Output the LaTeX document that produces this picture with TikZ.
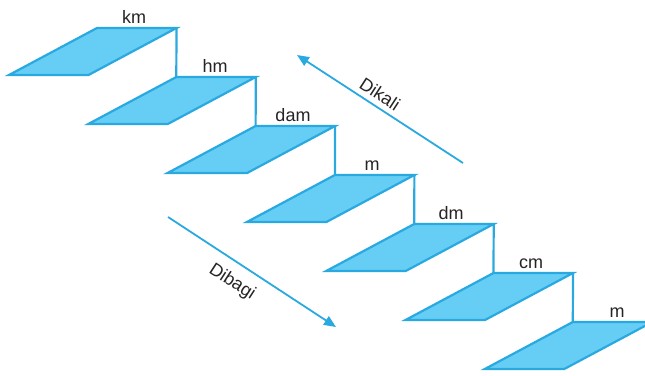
\documentclass[tikz,border=0pt]{standalone}
\usepackage{fontspec}
\setmainfont{Liberation Sans}
\usetikzlibrary{arrows.meta}
\definecolor{stepfill}{HTML}{66CEF4}
\definecolor{stepline}{HTML}{2AA9E0}
\definecolor{txt}{HTML}{262324}
\tikzset{
  stepbox/.style={fill=stepfill, draw=stepline, line width=2.2pt, line join=miter},
  riser/.style={draw=stepline, line width=2.2pt},
  lbl/.style={text=txt, font=\fontsize{18}{18}\selectfont, inner sep=0pt, anchor=base},
  arr/.style={draw=stepline, line width=1.8pt, -{Triangle[length=12pt,width=10pt]}},
  arrlbl/.style={text=txt, font=\fontsize{18}{18}\selectfont, inner sep=0pt, rotate=-33}
}
\begin{document}
\begin{tikzpicture}[x=1pt,y=-1pt]
\useasboundingbox (0,0) rectangle (645,375);
\clip (0,0) rectangle (645,375);
% steps
\foreach \k in {0,...,6}{
  \pgfmathsetmacro\dx{79.3*\k}
  \pgfmathsetmacro\dy{49*\k}
  \coordinate (BL\k) at (9+\dx,75+\dy);
  \coordinate (BR\k) at (88.5+\dx,75+\dy);
  \coordinate (TR\k) at (176.5+\dx,28+\dy);
  \coordinate (TL\k) at (97+\dx,28+\dy);
  \path[stepbox] (BL\k) -- (BR\k) -- (TR\k) -- (TL\k) -- cycle;
}
% risers
\foreach \k [evaluate=\k as \n using int(\k+1)] in {0,...,5}{
  \path[riser] (TR\k) -- (TL\n);
}
% labels
\node[lbl] (lkm)  at (134,23) {km};
\node[lbl] (lhm)  at (215,72) {hm};
\node[lbl] (ldam) at (293,121) {dam};
\node[lbl] (lm)   at (372,170) {m};
\node[lbl] (ldm)  at (451,219) {dm};
\node[lbl] (lcm)  at (531,268) {cm};
\node[lbl] (lmm)  at (617,317) {m};
% arrows
\coordinate (ka) at (463,163);
\coordinate (kb) at (297,55);
\draw[arr] (ka) -- (kb);
\node[arrlbl] (dikali) at (380,94) {Dikali};
\coordinate (ba) at (168,217);
\coordinate (bb) at (336,327);
\draw[arr] (ba) -- (bb);
\node[arrlbl] (dibagi) at (232,282) {Dibagi};
\end{tikzpicture}
\end{document}
